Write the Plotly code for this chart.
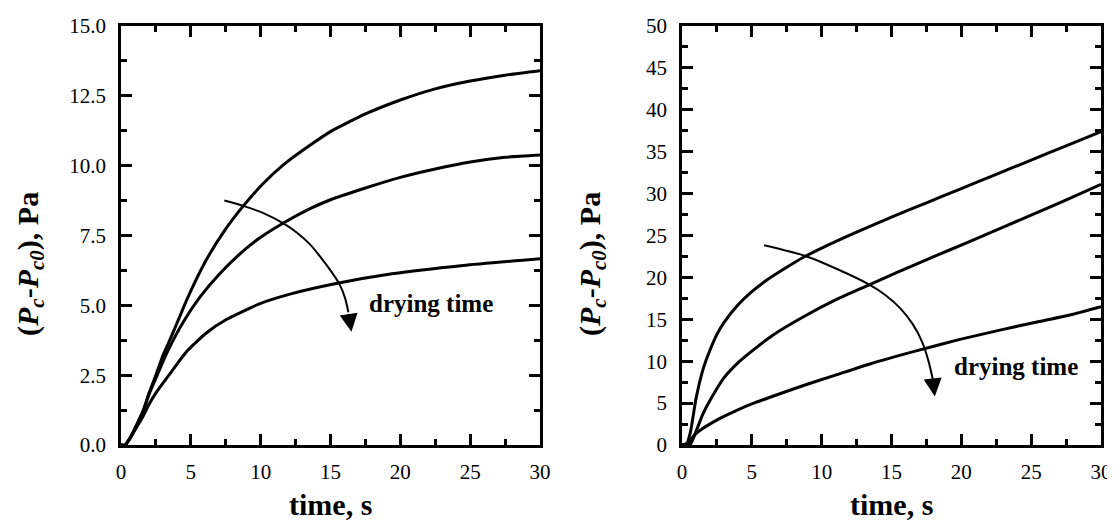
import plotly.graph_objects as go

# ---------------- data ----------------
# Left panel
left_t_A = [0, 0.3, 0.7, 1.1, 1.6, 2.0, 2.55, 3.0, 3.5, 4.0, 4.7, 6.1, 7.45, 8.76, 10.2, 11.6, 13.5, 15, 17.5, 20, 22.5, 25, 27.5, 30]
left_v_A = [0, 0, 0.3, 0.7, 1.25, 1.85, 2.57, 3.2, 3.76, 4.35, 5.19, 6.62, 7.7, 8.56, 9.37, 10.02, 10.72, 11.22, 11.85, 12.35, 12.75, 13.03, 13.24, 13.4]
left_t_B = [0, 0.3, 0.7, 1.1, 1.6, 2.0, 2.55, 3.27, 4.46, 5.66, 7.1, 8.76, 9.95, 11.6, 13.5, 15, 17.5, 20, 22.5, 25, 27.5, 30]
left_v_B = [0, 0, 0.28, 0.68, 1.22, 1.8, 2.45, 3.28, 4.4, 5.3, 6.15, 6.95, 7.42, 7.94, 8.45, 8.78, 9.2, 9.58, 9.88, 10.13, 10.3, 10.38]
left_t_C = [0, 0.3, 0.7, 1.1, 1.6, 2.0, 2.55, 3.5, 4.7, 6.13, 7.57, 9.95, 12.1, 15.4, 19.4, 24.5, 30]
left_v_C = [0, 0, 0.28, 0.62, 1.05, 1.45, 1.9, 2.55, 3.35, 4.02, 4.5, 5.06, 5.4, 5.78, 6.13, 6.43, 6.67]

# Right panel
right_t_A = [0, 0.3, 0.6, 1.0, 1.5, 2.0, 2.5, 3.0, 4.0, 5.0, 6.0, 7.5, 8.7, 10.0, 12.5, 15.0, 17.5, 20.0, 22.5, 25.0, 27.5, 30.0]
right_v_A = [0, 0, 1.5, 5.5, 9.0, 11.3, 13.2, 14.6, 16.7, 18.3, 19.6, 21.2, 22.4, 23.5, 25.4, 27.2, 28.9, 30.6, 32.3, 34.0, 35.7, 37.4]
right_t_B = [0, 0.6, 1.0, 1.5, 2.0, 3.0, 4.0, 5.0, 6.5, 8.7, 11.1, 13.4, 15.4, 17.9, 20.5, 23.0, 25.5, 28.0, 30.0]
right_v_B = [0, 0.1, 1.6, 3.7, 5.3, 8.0, 9.8, 11.2, 13.1, 15.3, 17.4, 19.1, 20.6, 22.4, 24.2, 26.0, 27.8, 29.6, 31.1]
right_t_C = [0, 0.4, 0.9, 1.5, 2.0, 2.75, 4.0, 5.0, 6.3, 8.7, 11.1, 13.5, 16.7, 19.9, 23.0, 25.5, 28.0, 30.0]
right_v_C = [0, 0.2, 1.2, 2.0, 2.5, 3.2, 4.2, 4.9, 5.7, 7.1, 8.4, 9.7, 11.2, 12.6, 13.8, 14.7, 15.6, 16.5]

# "drying time" arrows (path, then tip)
left_arrow_t = [7.4, 8.76, 10.2, 11.6, 12.6, 13.5, 14.3, 15.0, 15.65, 16.05, 16.28]
left_arrow_v = [8.75, 8.56, 8.3, 7.94, 7.6, 7.2, 6.72, 6.25, 5.75, 5.25, 4.75]
left_arrow_tip = (16.5, 4.05)
right_arrow_t = [5.88, 8.84, 11.1, 13.38, 14.58, 15.65, 16.53, 17.2, 17.65, 17.95]
right_arrow_v = [23.84, 22.56, 21.0, 19.17, 17.88, 16.28, 14.39, 12.28, 10.01, 7.9]
right_arrow_tip = (18.1, 5.8)

left_yticks = [0, 2.5, 5, 7.5, 10, 12.5, 15]
right_yticks = [0, 5, 10, 15, 20, 25, 30, 35, 40, 45, 50]
x_ticks = [0, 5, 10, 15, 20, 25, 30]

annot_text = "drying time"
left_annot_pos = (22.2, 5.08)
right_annot_pos = (23.9, 9.4)
x_title = "time, s"
y_title = "(<i>P</i><sub><i>c</i></sub>-<i>P</i><sub><i>c0</i></sub>), Pa"

# ---------------- figure ----------------
FONT = "Liberation Serif"
W, H = 1115, 524
OFF = 8  # the page places the figure 8 px right/down; compensate
def px(x):
    return (x - OFF) / W
def py(y):
    return 1 - (y - OFF) / H

fig = go.Figure()
line = dict(color="black", width=3, shape="spline", smoothing=0.5)

for t, v in [(left_t_A, left_v_A), (left_t_B, left_v_B), (left_t_C, left_v_C)]:
    fig.add_trace(go.Scatter(x=t, y=v, mode="lines", line=line, xaxis="x", yaxis="y",
                             showlegend=False, hoverinfo="skip"))
for t, v in [(right_t_A, right_v_A), (right_t_B, right_v_B), (right_t_C, right_v_C)]:
    fig.add_trace(go.Scatter(x=t, y=v, mode="lines", line=line, xaxis="x2", yaxis="y2",
                             showlegend=False, hoverinfo="skip"))

arrow_line = dict(color="black", width=2, shape="spline", smoothing=0.7)
fig.add_trace(go.Scatter(x=left_arrow_t, y=left_arrow_v, mode="lines", line=arrow_line,
                         xaxis="x", yaxis="y", showlegend=False, hoverinfo="skip"))
fig.add_trace(go.Scatter(x=right_arrow_t, y=right_arrow_v, mode="lines", line=arrow_line,
                         xaxis="x2", yaxis="y2", showlegend=False, hoverinfo="skip"))

ann_font = dict(family=FONT, size=25, color="black")
title_font = dict(family=FONT, size=30, color="black")
C = dict(xanchor="center", yanchor="middle", showarrow=False)
annotations = [
    dict(x=left_arrow_tip[0], y=left_arrow_tip[1], ax=left_arrow_t[-1], ay=left_arrow_v[-1],
         xref="x", yref="y", axref="x", ayref="y", text="", showarrow=True,
         arrowhead=2, arrowsize=1.8, arrowwidth=2, arrowcolor="black"),
    dict(x=right_arrow_tip[0], y=right_arrow_tip[1], ax=right_arrow_t[-1], ay=right_arrow_v[-1],
         xref="x2", yref="y2", axref="x2", ayref="y2", text="", showarrow=True,
         arrowhead=2, arrowsize=1.8, arrowwidth=2, arrowcolor="black"),
    dict(x=left_annot_pos[0], y=left_annot_pos[1], xref="x", yref="y",
         text="<b>" + annot_text + "</b>", font=ann_font, **C),
    dict(x=right_annot_pos[0], y=right_annot_pos[1], xref="x2", yref="y2",
         text="<b>" + annot_text + "</b>", font=ann_font, **C),
    # axis titles
    dict(x=px(330.5), y=py(504), xref="paper", yref="paper", text="<b>" + x_title + "</b>",
         font=title_font, **C),
    dict(x=px(891.5), y=py(504), xref="paper", yref="paper", text="<b>" + x_title + "</b>",
         font=title_font, **C),
    dict(x=px(30), y=py(264), xref="paper", yref="paper", text="<b>" + y_title + "</b>",
         textangle=-90, font=title_font, **C),
    dict(x=px(592), y=py(264), xref="paper", yref="paper", text="<b>" + y_title + "</b>",
         textangle=-90, font=title_font, **C),
]

tick_font = dict(family=FONT, size=21, color="black")

def xaxis(domain, anchor):
    return dict(domain=domain, anchor=anchor, range=[0, 30], tickvals=x_ticks,
                ticks="inside", ticklen=11, tickwidth=2.5, tickcolor="black",
                minor=dict(ticks="inside", ticklen=6, tickwidth=2.5, tickcolor="black", dtick=2.5, tick0=0),
                showline=True, linewidth=2.5, linecolor="black", mirror="allticks",
                showgrid=False, zeroline=False, ticklabelstandoff=6, automargin=False,
                tickfont=tick_font)

def yaxis(domain, anchor, rng, vals, fmt, minor_dtick):
    return dict(domain=domain, anchor=anchor, range=rng, tickvals=vals, tickformat=fmt,
                ticks="inside", ticklen=11, tickwidth=2.5, tickcolor="black",
                minor=dict(ticks="inside", ticklen=6, tickwidth=2.5, tickcolor="black", dtick=minor_dtick, tick0=0),
                showline=True, linewidth=2.5, linecolor="black", mirror="allticks",
                showgrid=False, zeroline=False, ticklabelstandoff=8, automargin=False,
                tickfont=tick_font)

ydom = [py(445), py(26)]
fig.update_layout(
    width=W, height=H,
    margin=dict(l=0, r=0, t=0, b=0, autoexpand=False),
    paper_bgcolor="white", plot_bgcolor="white",
    font=dict(family=FONT, color="black"),
    xaxis=xaxis([px(121), px(540)], "y"),
    yaxis=yaxis(ydom, "x", [0, 15], left_yticks, ".1f", 1.25),
    xaxis2=xaxis([px(682), px(1101)], "y2"),
    yaxis2=yaxis(ydom, "x2", [0, 50], right_yticks, "d", 2.5),
    annotations=annotations,
    showlegend=False,
)

fig.write_html("out.html")
